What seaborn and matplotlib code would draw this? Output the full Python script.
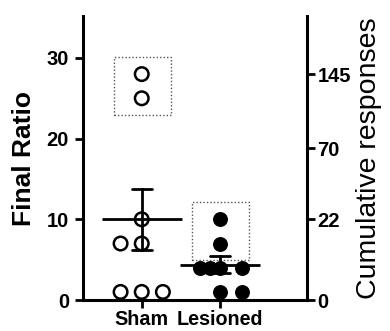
import numpy as np
import pandas as pd
import matplotlib
matplotlib.use("Agg")
import matplotlib.pyplot as plt
from matplotlib.patches import Rectangle
import seaborn as sns

# ---- data ----
groups = ["Sham", "Lesioned"]
sham_values = [28, 25, 10, 7, 7, 1, 1, 1]
lesioned_values = [10, 7, 4, 4, 4, 4, 1, 1]
# points enclosed in dotted boxes (high responders)
sham_boxed = [28, 25]
lesioned_boxed = [10, 7]
left_ticks = [0, 10, 20, 30]
right_tick_labels = ["0", "22", "70", "145"]
right_tick_pos = [0, 10, 18.8, 28]  # positions on the Final Ratio scale

# horizontal jitter of individual points (layout only)
sham_jitter = [0, 0, 0, -0.27, 0, -0.27, 0, 0.27]
lesioned_jitter = [0, 0, -0.255, -0.128, 0, 0.277, 0, 0.277]

sns.set_theme(style="white")
plt.rcParams["font.family"] = ["Liberation Sans", "DejaVu Sans"]
plt.rcParams["text.color"] = "black"
plt.rcParams["axes.labelcolor"] = "black"
plt.rcParams["xtick.color"] = "black"
plt.rcParams["ytick.color"] = "black"

df = pd.DataFrame({
    "group": ["Sham"] * len(sham_values) + ["Lesioned"] * len(lesioned_values),
    "value": sham_values + lesioned_values,
})
df["xpos"] = [0 + j for j in sham_jitter] + [1 + j for j in lesioned_jitter]

fig = plt.figure(figsize=(3.9, 3.31), dpi=100)
ax = fig.add_axes([83 / 390, 31 / 331, (307 - 83) / 390, (300 - 16) / 331])

# mean +/- SEM
sns.pointplot(data=df, x="group", y="value", order=groups, errorbar="se",
              capsize=0.26, color="black", markers="_", linestyles="none",
              markersize=58, markeredgewidth=2.0,
              err_kws={"linewidth": 2.0}, ax=ax, zorder=3)

# individual points
sham_df = df[df.group == "Sham"]
les_df = df[df.group == "Lesioned"]
sns.scatterplot(x=sham_df["xpos"], y=sham_df["value"], ax=ax, s=95,
                facecolor="none", edgecolor="black", linewidth=1.8,
                marker="o", clip_on=False, zorder=4)
sns.scatterplot(x=les_df["xpos"], y=les_df["value"], ax=ax, s=95,
                color="black", edgecolor="black", linewidth=1.0,
                marker="o", clip_on=False, zorder=4)

# dotted boxes around high responders
pad = 2.1
for gi, boxed in enumerate([sham_boxed, lesioned_boxed]):
    lo, hi = min(boxed) - pad, max(boxed) + pad
    ax.add_patch(Rectangle((gi - 0.36, lo), 0.73, hi - lo, fill=False,
                           linestyle=(0, (1, 1.5)), linewidth=1.0,
                           edgecolor="#555555", zorder=2))

ax.set_xlim(-0.75, 2.11)
ax.set_ylim(0, 35.2)
ax.set_xticks([0, 1])
ax.set_xticklabels(groups, fontsize=14.2, fontweight="bold")
ax.set_yticks(left_ticks)
ax.set_yticklabels([str(t) for t in left_ticks], fontsize=14.5, fontweight="bold")
ax.set_xlabel("")
ax.set_ylabel("Final Ratio", fontsize=19, fontweight="bold", labelpad=8)
ax.tick_params(axis="y", direction="out", length=6, width=2.0, color="black",
               left=True, pad=4)
ax.tick_params(axis="x", direction="out", length=6, width=2.0, color="black",
               bottom=True, pad=1.0)
for s in ["top", "right"]:
    ax.spines[s].set_visible(False)
for s in ["left", "bottom"]:
    ax.spines[s].set_linewidth(2.2)
    ax.spines[s].set_color("black")

ax2 = ax.twinx()
ax2.set_ylim(ax.get_ylim())
ax2.set_yticks(right_tick_pos)
ax2.set_yticklabels(right_tick_labels, fontsize=14.5, fontweight="bold")
ax2.set_ylabel("Cumulative responses", fontsize=20.5, labelpad=4, rotation=90)
ax2.tick_params(axis="y", direction="out", length=6, width=2.0, color="black",
                right=True, pad=1.5)
for s in ["top", "left", "bottom"]:
    ax2.spines[s].set_visible(False)
ax2.spines["right"].set_linewidth(2.2)
ax2.spines["right"].set_color("black")

fig.savefig("out.png", dpi=100)
